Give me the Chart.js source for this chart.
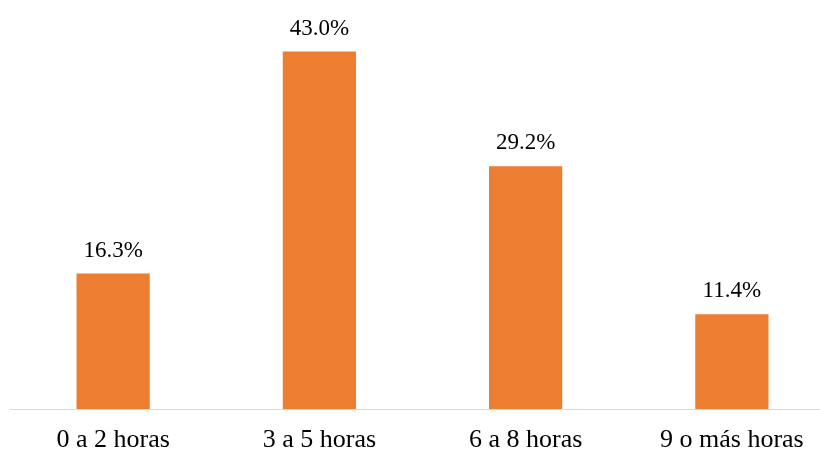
<!DOCTYPE html>
<html>
<head>
<meta charset="utf-8">
<script src="https://cdn.jsdelivr.net/npm/chart.js@4/dist/chart.umd.min.js"></script>
<style>
  html, body { margin: 0; padding: 0; background: #fff; overflow: hidden; }
  #wrap { position: relative; width: 835px; height: 452px; }
</style>
</head>
<body>
<div id="wrap"><canvas id="chart-horas"></canvas></div>
<script>
// ===================== DATA =====================

const categorias = ['0 a 2 horas', '3 a 5 horas', '6 a 8 horas', '9 o más horas'];
const porcentajes = [16.3, 43.0, 29.2, 11.4];

const FUENTE = '"Liberation Serif", "Times New Roman", serif';

// ===================== VALUE LABELS =====================

const etiquetasValor = {
    id: 'etiquetasValor',
    afterDatasetsDraw(chart) {
        const ctx = chart.ctx;
        const meta = chart.getDatasetMeta(0);
        ctx.save();
        ctx.font = '23px ' + FUENTE;
        ctx.fillStyle = '#000';
        ctx.textAlign = 'center';
        ctx.textBaseline = 'middle';
        meta.data.forEach((bar, i) => {
            ctx.fillText(porcentajes[i].toFixed(1) + '%', bar.x, bar.y - 23);
        });
        ctx.restore();
    }
};

// ===================== CHART =====================

new Chart(document.getElementById('chart-horas'), {
    type: 'bar',
    data: {
        labels: categorias,
        datasets: [{
            data: porcentajes,
            backgroundColor: '#ED7D31',
            borderWidth: 0,
            barPercentage: 0.355,
            categoryPercentage: 1
        }]
    },
    options: {
        responsive: true,
        maintainAspectRatio: false,
        animation: false,
        layout: { padding: { top: 35, left: 10, right: 0, bottom: 0 } },
        plugins: {
            legend: { display: false },
            tooltip: { enabled: false }
        },
        scales: {
            x: {
                grid: { display: false, drawTicks: false },
                border: { display: true, color: '#D9D9D9', width: 1 },
                ticks: {
                    color: '#000',
                    padding: 16,
                    maxRotation: 0,
                    font: { family: FUENTE, size: 26 }
                },
                afterFit(scale) { scale.height = 43; }
            },
            y: {
                display: false,
                min: 0,
                max: 45
            }
        }
    },
    plugins: [etiquetasValor]
});
</script>
</body>
</html>
